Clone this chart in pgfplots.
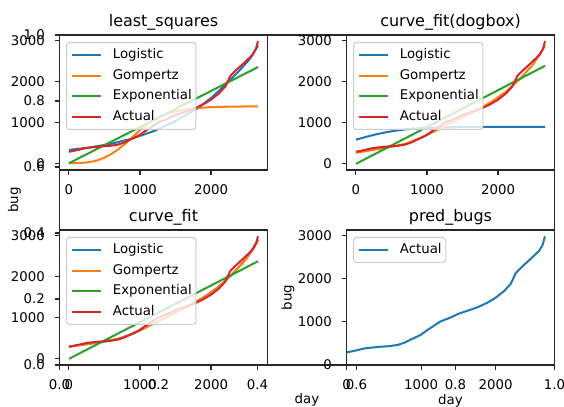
\documentclass[border=0pt]{standalone}
\usepackage{fontspec}
\setmainfont{DejaVu Sans}
\usepackage{pgfplots}
\usepackage{pgfplotstable}
\pgfplotsset{compat=1.18}

\definecolor{c0}{HTML}{1F77B4}
\definecolor{c1}{HTML}{FF7F0E}
\definecolor{c2}{HTML}{2CA02C}
\definecolor{c3}{HTML}{D62728}

% observed bug counts, shared by all four panels
\pgfplotstableread{
day bug
0 292
108 331
243 385
356 408
470 425
581 438
694 469
784 523
874 600
987 692
1122 854
1257 1008
1392 1100
1505 1192
1640 1269
1775 1354
1888 1446
2000 1562
2113 1715
2203 1885
2271 2138
2361 2292
2473 2469
2586 2654
2631 2792
2662 2985
}\actual

\pgfplotsset{
  mpl/.style={
    scale only axis,
    anchor=south west,
    axis line style={line width=0.77pt, black!85},
    every tick/.style={line width=0.77pt, black!85},
    tick align=outside,
    tick pos=left,
    major tick length=3.4pt,
    scaled ticks=false,
    ticklabel style={font=\fontsize{9.6}{11}\selectfont, inner sep=0pt},
    xticklabel style={anchor=north, yshift=-6.8pt},
    yticklabel style={anchor=east, xshift=-7pt},
    label style={font=\fontsize{9.6}{11}\selectfont},
    /pgf/number format/assume math mode=true,
    title style={font=\fontsize{11.5}{13}\selectfont, at={(0.5,1)}, anchor=base, yshift=-0.2pt},
    axis background/.style={fill=white},
  },
  sub/.style={
    mpl,
    width=149.76pt, height=97.2pt,
    xmin=-133, xmax=2795, ymin=-150, ymax=3135,
    xtick={0,1000,2000}, xticklabels={0,1000,2000},
    ytick={0,1000,2000,3000}, yticklabels={0,1000,2000,3000},
    legend cell align=left,
    legend style={at={(0,1)}, anchor=north west, xshift=4.7pt, yshift=-5pt,
      fill=white, fill opacity=0.8, text opacity=1, draw=black!20,
      line width=0.77pt, rounded corners=2pt,
      font=\fontsize{9.6}{11}\selectfont,
      inner xsep=3pt, inner ysep=1.5pt, column sep=3pt, row sep=0pt,
      nodes={inner xsep=0pt, inner ysep=2.65pt, text height=7.3pt, text depth=2.3pt}},
    legend image code/.code={
      \draw[#1, line width=1.45pt] (0pt,0pt) -- (20.9pt,0pt);
      \path (25.9pt,0pt);},
    every axis plot/.append style={line width=1.45pt, line join=round},
  },
}

\begin{document}
\begin{tikzpicture}
\path[use as bounding box] (0,0) rectangle (406.08pt,292.32pt);

% the empty axis behind the four panels
\begin{axis}[mpl, at={(42.84pt,29.52pt)}, width=356.4pt, height=237.6pt,
  xmin=0, xmax=1, ymin=0, ymax=1,
  xtick={0,0.2,0.4,0.6,0.8,1}, xticklabels={0.0,0.2,0.4,0.6,0.8,1.0},
  ytick={0,0.2,0.4,0.6,0.8,1}, yticklabels={0.0,0.2,0.4,0.6,0.8,1.0},
  xlabel={day}, ylabel={bug},
  xlabel style={at={(axis description cs:0.5,-0.118)}, anchor=base},
  ylabel style={at={(axis description cs:-0.091,0.5)}, anchor=center},
]
\end{axis}

% least_squares
\begin{axis}[sub, at={(42.84pt,169.92pt)}, title={least\_squares}]
\addplot[c0] coordinates {(0,339) (300,400) (600,490) (900,620) (1200,800) (1500,1040) (1800,1340) (2000,1600) (2200,1920) (2400,2270) (2550,2560) (2662,2880)};
\addlegendentry{Logistic}
\addplot[c1] coordinates {(0,15) (200,25) (300,45) (400,85) (500,150) (600,245) (700,360) (800,500) (900,660) (1000,820) (1100,960) (1200,1080) (1400,1230) (1600,1310) (1800,1355) (2000,1380) (2300,1393) (2662,1398)};
\addlegendentry{Gompertz}
\addplot[c2] coordinates {(0,15) (1331,1185) (2662,2355)};
\addlegendentry{Exponential}
\addplot[c3] table[x=day, y=bug] {\actual};
\addlegendentry{Actual}
\end{axis}

% curve_fit(dogbox)
\begin{axis}[sub, at={(249.48pt,169.92pt)}, title={curve\_fit(dogbox)}]
\addplot[c0] coordinates {(0,587) (150,660) (300,725) (450,778) (600,818) (750,848) (900,866) (1100,880) (1400,892) (1800,898) (2662,901)};
\addlegendentry{Logistic}
\addplot[c1] coordinates {(0,270) (250,340) (500,415) (700,490) (900,620) (1100,790) (1300,960) (1500,1130) (1700,1300) (1900,1500) (2100,1740) (2300,2050) (2500,2430) (2662,2870)};
\addlegendentry{Gompertz}
\addplot[c2] coordinates {(0,0) (1331,1192) (2662,2385)};
\addlegendentry{Exponential}
\addplot[c3] table[x=day, y=bug] {\actual};
\addlegendentry{Actual}
\end{axis}

% curve_fit
\begin{axis}[sub, at={(42.84pt,29.52pt)}, title={curve\_fit}]
\addplot[c0] coordinates {(0,300) (250,355) (500,420) (700,490) (900,610) (1100,780) (1300,950) (1500,1125) (1700,1300) (1900,1500) (2100,1740) (2300,2060) (2500,2440) (2662,2890)};
\addlegendentry{Logistic}
\addplot[c1] coordinates {(0,300) (250,355) (500,420) (700,490) (900,610) (1100,780) (1300,950) (1500,1125) (1700,1300) (1900,1500) (2100,1740) (2300,2060) (2500,2440) (2662,2890)};
\addlegendentry{Gompertz}
\addplot[c2] coordinates {(0,0) (1331,1188) (2662,2375)};
\addlegendentry{Exponential}
\addplot[c3] table[x=day, y=bug] {\actual};
\addlegendentry{Actual}
\end{axis}

% pred_bugs
\begin{axis}[sub, at={(249.48pt,29.52pt)}, title={pred\_bugs},
  xmin=0, xmax=2790, ymin=0, ymax=3134,
  xlabel={day}, ylabel={bug},
  xlabel style={at={(axis description cs:0.5,-0.289)}, anchor=base},
  ylabel style={at={(axis description cs:-0.281,0.5)}, anchor=center},
]
\addplot[c0] table[x=day, y=bug] {\actual};
\addlegendentry{Actual}
\end{axis}
\end{tikzpicture}
\end{document}
